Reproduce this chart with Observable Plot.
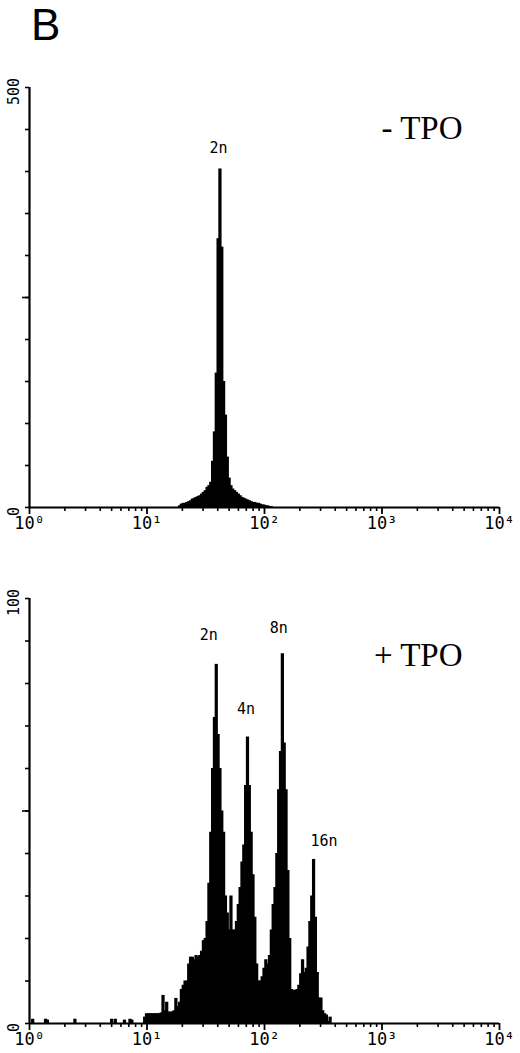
<!DOCTYPE html>
<html><head><meta charset="utf-8">
<script src="https://cdn.jsdelivr.net/npm/d3@7"></script>
<script src="https://cdn.jsdelivr.net/npm/@observablehq/plot@0.6"></script>
<style>
body{margin:0;background:#fff;}
#wrap{position:relative;width:520px;height:1053px;overflow:hidden;background:#fff;}
#panelLetter{position:absolute;left:31px;top:0px;font-family:"Liberation Sans",Arial,sans-serif;font-size:44px;line-height:normal;color:#000;}
#top{position:absolute;left:0;top:50px;}
#bottom{position:absolute;left:0;top:560px;}
</style></head><body>
<div id="wrap"><div id="panelLetter">B</div><div id="top"></div><div id="bottom"></div></div>
<script>
// ---- data (histogram channels: 64 channels per decade, 256 channels over 10^0..10^4) ----
const channelsPerDecade = 64;

// Panel 1: - TPO  (counts per channel, starting at channel 82)
const topStartChannel = 82;
const topCounts = [2,4,5,5,6,7,8,10,11,12,13,14,16,18,20,24,26,30,55,90,160,320,403,310,150,110,60,35,26,22,20,18,16,14,12,11,10,9,8,7,6,6,5,5,4,3,3,2,2,1,1];

// Panel 2: + TPO  (counts per channel, starting at channel 63)
const bottomStartChannel = 63;
const bottomCounts = [1.5,2.3,2.3,2.3,2.3,2.3,2.3,2.3,2.3,2.5,6.6,3,5,2.7,2.7,2.7,3,5.9,4,5,8,9,10,10,14,15.6,15.6,15,16,15.6,16,17,19.5,20,24,33,45,60,72,84.5,68,60,50,45,30,26,22,30,22,22,24,28,32,38,42,56,67.4,56,45,35,25,14,10,10,11,13,15,14,16,22,28,32,40,55,64,87,66,55,36,20,8,7.8,7.8,8,9,11.7,15,12,13,18,24,30,38.6,25,12,6,6,3,2.3,2,0.5,1.5];
// sparse low events below 10^1
const bottomSpeckChannels = [2,9,10,25,45,47,52,55,56];
const bottomSpeckCounts = [1,1,0.8,1,1,1,0.8,1,0.8];

// axes
const xTicks = [1,10,100,1000,10000];
const xTickLabels = ["10⁰","10¹","10²","10³","10⁴"];
const decades = [1,10,100,1000];
const minorMultipliers = [2,3,4,5,6,7,8,9];
const topYMax = 500, topYStep = 50;
const bottomYMax = 100, bottomYStep = 10;

// peak labels: channel of peak
const topPeaks = [{label:"2n", channel:104}];
const bottomPeaks = [{label:"2n", channel:102},{label:"4n", channel:119},{label:"8n", channel:138},{label:"16n", channel:155}];
const topTitle = "- TPO";
const bottomTitle = "+ TPO";

// ---- build ----
function bins(start, counts) {
  return counts.map((c, i) => ({ch: start + i, count: c}));
}
const topBins = bins(topStartChannel, topCounts);
const bottomBins = bins(bottomStartChannel, bottomCounts)
  .concat(bottomSpeckChannels.map((ch, i) => ({ch, count: bottomSpeckCounts[i]})));
const minorTicks = decades.flatMap(d => minorMultipliers.map(m => d * m));

const x1 = d => Math.pow(10, (d.ch - 0.5) / channelsPerDecade);
const x2 = d => Math.pow(10, (d.ch + 0.5) / channelsPerDecade);
const xc = ch => Math.pow(10, ch / channelsPerDecade);

const labelOffsets = {
  top: {"2n":[-2,-16]},
  bottom: {"2n":[-8,-24], "4n":[-2,-23], "8n":[-4,-21], "16n":[10,-13]}
};

function panel({data, yMax, yStep, peaks, offsets, title, titleDy, height, marginTop, marginBottom}) {
  const yTicks = d3.range(0, yMax + yStep / 2, yStep);
  const peakMarks = peaks.map(p => {
    const bin = data.find(d => d.ch === p.channel);
    const [dx, dy] = offsets[p.label];
    return Plot.text([p], {x: () => xc(p.channel), y: () => bin.count, text: "label",
      dx, dy, textAnchor: "middle", lineAnchor: "bottom",
      fontFamily: "DejaVu Sans Mono", fontSize: 15, fill: "black"});
  });
  return Plot.plot({
    width: 520, height, marginLeft: 29, marginRight: 21, marginTop, marginBottom,
    style: {background: "white", color: "black", fontFamily: "DejaVu Sans Mono"},
    x: {type: "log", domain: [1, 10000], label: null},
    y: {domain: [0, yMax], label: null},
    marks: [
      Plot.rectY(data, {x1, x2, y: "count", fill: "black", insetLeft: -0.7, insetRight: -0.7}),
      Plot.axisY(yTicks, {tickSize: 4, tickFormat: () => "", strokeWidth: 1.6}),
      Plot.axisY([yMax / 2], {tickSize: 7, tickFormat: () => "", strokeWidth: 1.6}),
      Plot.axisY([0, yMax], {tickSize: 0, tickRotate: -90, tickPadding: 11, dy: 4,
        fontSize: 15, tickFormat: d => String(d)}),
      Plot.axisX(minorTicks, {tickSize: 4, tickFormat: () => "", strokeWidth: 1.6}),
      Plot.axisX(xTicks, {tickSize: 7, tickPadding: 2, strokeWidth: 1.8, fontSize: 17,
        tickFormat: d => xTickLabels[xTicks.indexOf(d)]}),
      Plot.ruleY([0], {stroke: "black", strokeWidth: 2.2}),
      Plot.ruleX([1], {stroke: "black", strokeWidth: 2.2}),
      ...peakMarks,
      Plot.text([title], {frameAnchor: "top-right", dx: -37, dy: titleDy, textAnchor: "end",
        lineAnchor: "bottom", fontFamily: "Liberation Serif", fontSize: 33, fill: "black"})
    ]
  });
}

document.getElementById("top").append(panel({
  data: topBins, yMax: topYMax, yStep: topYStep, peaks: topPeaks, offsets: labelOffsets.top,
  title: topTitle, titleDy: 51, height: 500, marginTop: 37, marginBottom: 43
}));
document.getElementById("bottom").append(panel({
  data: bottomBins, yMax: bottomYMax, yStep: bottomYStep, peaks: bottomPeaks, offsets: labelOffsets.bottom,
  title: bottomTitle, titleDy: 67, height: 493, marginTop: 38, marginBottom: 30
}));
</script>
</body></html>
